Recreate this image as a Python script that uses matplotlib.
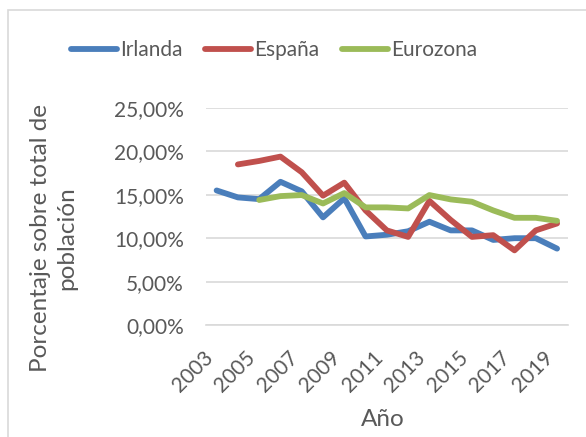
import numpy as np
import matplotlib
matplotlib.use("Agg")
import matplotlib.pyplot as plt
from matplotlib.patches import Rectangle
from matplotlib.ticker import FuncFormatter

years = list(range(2003, 2020))
irlanda = [15.5, 14.7, 14.5, 16.5, 15.4, 12.4, 14.6, 10.2, 10.4, 10.8, 11.9, 10.9, 10.9, 9.8, 10.0, 10.0, 8.8]
espana = [np.nan, 18.5, 18.9, 19.4, 17.6, 14.9, 16.4, 13.2, 10.9, 10.15, 14.3, 12.1, 10.15, 10.35, 8.6, 10.9, 11.7]
eurozona = [np.nan, np.nan, 14.4, 14.85, 14.97, 14.0, 15.2, 13.55, 13.55, 13.43, 14.97, 14.47, 14.2, 13.2, 12.35, 12.35, 12.0]
series_names = ["Irlanda", "España", "Eurozona"]
colors = ["#4A7EBB", "#C0504D", "#9BBB59"]
yticks = [0, 5, 10, 15, 20, 25]
xticks = list(range(2003, 2020, 2))

plt.rcParams['font.family'] = ['Lato', 'DejaVu Sans']
txt = "#595959"

fig = plt.figure(figsize=(5.86, 4.37), dpi=100)
fig.patches.append(Rectangle((8/586, -0.05), 1.1, 1 - 10/437 + 0.05, transform=fig.transFigure,
                             fill=False, edgecolor="#D9D9D9", linewidth=1.2))
ax = fig.add_axes([206/586, 1 - 325/437, (567.7 - 206)/586, (325 - 108)/437])

for vals, name, c in zip([irlanda, espana, eurozona], series_names, colors):
    ax.plot(years, vals, color=c, linewidth=4.2, label=name, solid_capstyle='round', solid_joinstyle='round')

ax.set_xlim(2002.5, 2019.5)
ax.set_ylim(0, 25)
ax.set_yticks(yticks)
ax.yaxis.set_major_formatter(FuncFormatter(lambda v, p: f"{v:.2f}".replace('.', ',') + "%"))
ax.set_xticks(xticks)
ax.set_xticklabels([str(x) for x in xticks], rotation=45, ha='right', va='top')
ax.grid(axis='y', color='#D9D9D9', linewidth=1.2)
ax.set_axisbelow(True)
for s in ['top', 'right', 'left']:
    ax.spines[s].set_visible(False)
ax.spines['bottom'].set_color('#D9D9D9')
ax.spines['bottom'].set_linewidth(1.2)
ax.tick_params(axis='both', length=0, labelsize=15, labelcolor=txt)
ax.tick_params(axis='y', pad=16)
ax.tick_params(axis='x', pad=16)

fig.text(54/586, 1 - 238/437, "Porcentaje sobre total de\npoblación", rotation=90,
         ha='center', va='center', fontsize=17.5, color=txt, linespacing=1.3, multialignment='center')
fig.text(383/586, 1 - 420/437, "Año", ha='center', va='center', fontsize=17.5, color=txt)

leg = fig.legend(loc='center', bbox_to_anchor=(274/586, 1 - 50/437), ncol=3, frameon=False,
                 fontsize=15, handlelength=2.2, handletextpad=0.15, columnspacing=1.1, labelcolor=txt)

fig.savefig("out.png", dpi=100)
